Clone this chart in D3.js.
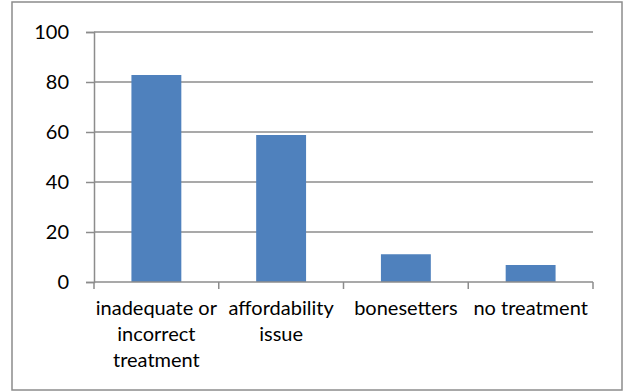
<!DOCTYPE html>
<html>
<head>
<meta charset="utf-8">
<script src="https://cdn.jsdelivr.net/npm/d3@7"></script>
<style>
    html, body { margin: 0; padding: 0; background: #fff; }
    svg { display: block; }
    text { font-family: Lato, "Open Sans", sans-serif; fill: #000; }
</style>
</head>
<body>
<div id="chart"></div>
<script>
// Chart data
const categories = [
    ['inadequate or', 'incorrect', 'treatment'],
    ['affordability', 'issue'],
    ['bonesetters'],
    ['no treatment']
];
const values = [82.8, 58.8, 11.1, 6.8];
const yTicks = [0, 20, 40, 60, 80, 100];

const width = 624, height = 391;
const plot = { left: 94, right: 593, top: 32, bottom: 282 };
const gridColor = '#8c8c8c';
const barColor = '#4f81bd';
const fontSize = 20;

const svg = d3.select('#chart').append('svg')
    .attr('width', width)
    .attr('height', height);

// outer chart border
svg.append('rect')
    .attr('x', 12).attr('y', 2)
    .attr('width', 610).attr('height', 388)
    .attr('fill', '#fff')
    .attr('stroke', gridColor)
    .attr('stroke-width', 1.5);

const x = d3.scaleBand()
    .domain(d3.range(categories.length))
    .range([plot.left, plot.right])
    .paddingInner(0.6)
    .paddingOuter(0.3);

const y = d3.scaleLinear()
    .domain([0, 100])
    .range([plot.bottom, plot.top]);

// horizontal gridlines
svg.append('g')
    .selectAll('line')
    .data(yTicks.filter(d => d > 0))
    .enter().append('line')
    .attr('x1', plot.left).attr('x2', plot.right)
    .attr('y1', d => y(d)).attr('y2', d => y(d))
    .attr('stroke', gridColor)
    .attr('stroke-width', 1.5);

// bars
svg.append('g')
    .selectAll('rect')
    .data(values)
    .enter().append('rect')
    .attr('x', (d, i) => x(i))
    .attr('y', d => y(d))
    .attr('width', x.bandwidth())
    .attr('height', d => y(0) - y(d))
    .attr('fill', barColor);

// y axis
const yAxis = svg.append('g')
    .attr('transform', `translate(${plot.left},0)`)
    .call(d3.axisLeft(y).tickValues(yTicks).tickSize(8).tickPadding(17));
yAxis.select('.domain').attr('stroke', gridColor).attr('stroke-width', 1.5);
yAxis.selectAll('.tick line').attr('stroke', gridColor).attr('stroke-width', 1.5);
yAxis.selectAll('.tick text')
    .attr('font-size', fontSize)
    .attr('font-family', 'Lato, sans-serif')
    .attr('fill', '#000');

// x axis: category boundaries as ticks
const step = x.step();
const bounds = d3.range(categories.length + 1).map(i => plot.left + i * (plot.right - plot.left) / categories.length);
svg.append('line')
    .attr('x1', plot.left).attr('x2', plot.right)
    .attr('y1', plot.bottom).attr('y2', plot.bottom)
    .attr('stroke', gridColor)
    .attr('stroke-width', 1.5);
svg.append('g')
    .selectAll('line')
    .data(bounds)
    .enter().append('line')
    .attr('x1', d => d).attr('x2', d => d)
    .attr('y1', plot.bottom).attr('y2', plot.bottom + 7)
    .attr('stroke', gridColor)
    .attr('stroke-width', 1.5);

// category labels
const labels = svg.append('g')
    .selectAll('text')
    .data(categories)
    .enter().append('text')
    .attr('text-anchor', 'middle')
    .attr('font-size', fontSize)
    .attr('x', (d, i) => x(i) + x.bandwidth() / 2)
    .attr('y', 315);
labels.selectAll('tspan')
    .data(d => d)
    .enter().append('tspan')
    .attr('x', function () { return this.parentNode.getAttribute('x'); })
    .attr('dy', (d, i) => i === 0 ? 0 : 26)
    .text(d => d);
</script>
</body>
</html>
